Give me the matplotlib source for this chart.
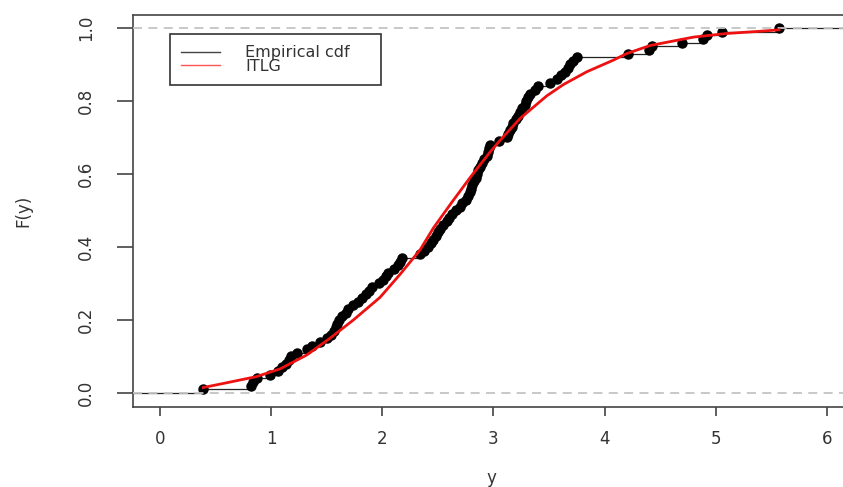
import numpy as np
import matplotlib
matplotlib.use('Agg')
import matplotlib.pyplot as plt

# sorted sample, one value per step of 1/n
ecdf_x = [0.39, 0.82, 0.84, 0.87, 0.99, 1.06, 1.10, 1.13, 1.16, 1.18,
          1.23, 1.32, 1.37, 1.44, 1.50, 1.54, 1.57, 1.58, 1.59, 1.61,
          1.64, 1.67, 1.69, 1.74, 1.78, 1.82, 1.85, 1.88, 1.91, 1.97,
          2.01, 2.03, 2.05, 2.11, 2.14, 2.16, 2.18, 2.34, 2.38, 2.41,
          2.44, 2.46, 2.48, 2.50, 2.52, 2.55, 2.58, 2.60, 2.63, 2.66,
          2.70, 2.72, 2.75, 2.77, 2.79, 2.80, 2.81, 2.83, 2.84, 2.85,
          2.86, 2.88, 2.90, 2.92, 2.94, 2.95, 2.96, 2.97, 3.05, 3.12,
          3.13, 3.15, 3.17, 3.18, 3.20, 3.22, 3.24, 3.26, 3.28, 3.29,
          3.31, 3.33, 3.37, 3.40, 3.51, 3.57, 3.61, 3.64, 3.67, 3.69,
          3.72, 3.75, 4.21, 4.40, 4.43, 4.70, 4.89, 4.92, 5.06, 5.57]

# fitted ITLG cdf
itlg_x = [0.39, 0.60, 0.87, 1.08, 1.32, 1.53, 1.74, 1.98, 2.16, 2.34,
          2.46, 2.62, 2.79, 2.97, 3.06, 3.24, 3.48, 3.63, 3.84, 4.08,
          4.20, 4.41, 4.80, 5.10, 5.40, 5.57]
itlg_F = [0.015, 0.028, 0.045, 0.066, 0.104, 0.150, 0.200, 0.262, 0.325, 0.392,
          0.452, 0.520, 0.590, 0.660, 0.692, 0.752, 0.814, 0.845, 0.880, 0.912,
          0.930, 0.952, 0.975, 0.985, 0.991, 0.995]

x_ticks = [0, 1, 2, 3, 4, 5, 6]
y_ticks = [0.0, 0.2, 0.4, 0.6, 0.8, 1.0]

plt.rcParams['font.family'] = ['DejaVu Sans']

fig = plt.figure(figsize=(8.43, 4.87), dpi=100)
W, H = 843, 487
ax = fig.add_axes([133 / W, 1 - 407 / H, (849 - 133) / W, (407 - 15) / H])
xlim = (-0.243, 6.2)
ax.set_xlim(*xlim)
ax.set_ylim(-0.0384, 1.0356)

xs = np.array(ecdf_x)
n = len(xs)
F = np.arange(1, n + 1) / n

# step function: horizontal pieces, then the jump points
ax.hlines(0, xlim[0], xs[0], color='#222222', lw=0.9, zorder=2)
ax.hlines(F[:-1], xs[:-1], xs[1:], color='#222222', lw=0.9, zorder=2)
ax.hlines(1, xs[-1], xlim[1], color='#222222', lw=0.9, zorder=2)
ax.plot(xs, F, 'o', color='black', ms=6.5, mec='black', zorder=3)

# R's dashed guides at 0 and 1
for h in (0, 1):
	ax.axhline(h, color='#c4c4c4', lw=1.3, ls=(0, (5, 3.5)), zorder=4)

ax.plot(itlg_x, itlg_F, color='#ee1111', lw=2.0, zorder=5)

ax.set_xticks(x_ticks)
ax.set_yticks(y_ticks)
ax.set_yticklabels(['%.1f' % v for v in y_ticks])
ax.tick_params(axis='x', length=6.5, width=1.2, color='#444444', labelsize=12, pad=10,
	labelcolor='#333333')
ax.tick_params(axis='y', length=11.5, width=1.2, color='#444444', labelsize=12, pad=16,
	labelrotation=90, labelcolor='#333333')
for lab in ax.get_yticklabels():
	lab.set_va('center')
for sp in ax.spines.values():
	sp.set_color('#444444')
	sp.set_linewidth(1.2)

ax.set_xlabel('y', fontsize=12, va='center', color='#333333')
ax.xaxis.set_label_coords(0.5, (407 - 478) / 392)
ax.set_ylabel('F(y)', fontsize=12, va='center', color='#333333')
ax.yaxis.set_label_coords((23 - 133) / 716, 0.5)

leg = ax.legend([plt.Line2D([], [], color='#444444', lw=1.0),
		plt.Line2D([], [], color='#ff5555', lw=1.0)],
	['Empirical cdf', 'ITLG'], loc='upper left', mode='expand',
	bbox_to_anchor=((170 - 133) / 716, (407 - 82) / 392, 211 / 716, 48 / 392),
	borderaxespad=0, fontsize=11.5, handlelength=2.4, handletextpad=1.6,
	labelspacing=-0.1, borderpad=0.7, fancybox=False, framealpha=1)
leg.get_frame().set_edgecolor('#333333')
leg.get_frame().set_linewidth(1.2)
for t in leg.get_texts():
	t.set_color('#333333')

fig.savefig('out.png', dpi=100)
